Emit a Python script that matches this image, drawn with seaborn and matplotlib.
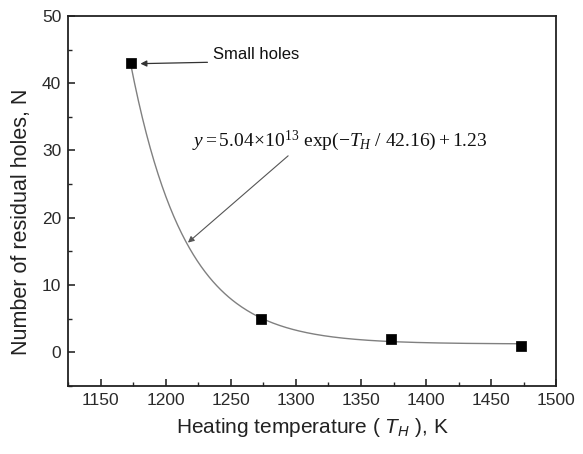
import numpy as np
import pandas as pd
import matplotlib
matplotlib.use("Agg")
import matplotlib.pyplot as plt
from matplotlib.ticker import MultipleLocator
import seaborn as sns

# Data
temperatures = [1173, 1273, 1373, 1473]
residual_holes = [43, 5, 2, 1]

# Fit parameters shown on the chart: y = A*exp(-T/tau) + y0
fit_A = 5.04e13
fit_tau = 42.16
fit_y0 = 1.23

x_ticks = [1150, 1200, 1250, 1300, 1350, 1400, 1450, 1500]
y_ticks = [0, 10, 20, 30, 40, 50]

sns.set_style("ticks")
plt.rcParams['font.family'] = ['Liberation Sans', 'DejaVu Sans']
plt.rcParams['mathtext.fontset'] = 'custom'
plt.rcParams['mathtext.rm'] = 'Liberation Serif'
plt.rcParams['mathtext.it'] = 'Liberation Serif:italic'
plt.rcParams['mathtext.sf'] = 'Liberation Sans:italic'

fig, ax = plt.subplots(figsize=(5.83, 4.54), dpi=100)
fig.subplots_adjust(left=0.117, right=0.954, top=0.965, bottom=0.15)

df = pd.DataFrame({"T": temperatures, "N": residual_holes})
t_fit = np.linspace(temperatures[0], temperatures[-1], 300)
fit_df = pd.DataFrame({"T": t_fit, "N": fit_A * np.exp(-t_fit / fit_tau) + fit_y0})

sns.lineplot(data=fit_df, x="T", y="N", ax=ax, color="#808080", linewidth=1.0)
sns.scatterplot(data=df, x="T", y="N", ax=ax, marker="s", color="black", s=42,
                edgecolor="black", zorder=5)

ax.set_xlim(1125, 1500)
ax.set_ylim(-5, 50)
ax.set_xticks(x_ticks)
ax.set_yticks(y_ticks)
ax.xaxis.set_minor_locator(MultipleLocator(25))
ax.yaxis.set_minor_locator(MultipleLocator(5))
ax.tick_params(which="major", direction="in", length=5, width=1.2, labelsize=12.5,
               colors="#2a2a2a", top=False, right=False, pad=5)
ax.tick_params(which="minor", direction="in", length=3, width=1.0, top=False, right=False)
for s in ax.spines.values():
    s.set_visible(True)
    s.set_linewidth(1.3)
    s.set_color("#222222")

ax.set_xlabel(r"Heating temperature ( $\mathsf{T_H}$ ), K", fontsize=15, color="#222222", labelpad=6)
ax.set_ylabel("Number of residual holes, N", fontsize=15.5, color="#222222")
ax.yaxis.set_label_coords(-0.075, 0.443)

# "Small holes" label and arrow
ax.text(1236, 44.2, "Small holes", fontsize=12, va="center", ha="left", color="#111111")
ax.annotate("", xy=(1180.5, 42.9), xytext=(1232, 43.1),
            arrowprops=dict(arrowstyle="-|>", color="#333333", lw=0.9,
                            mutation_scale=9, shrinkA=0, shrinkB=0))

# Fit equation and arrow
ax.text(1334, 31.4, r"$y = 5.04\!\times\!10^{13}\ \mathrm{exp}(-T_H\ /\ 42.16) + 1.23$",
        fontsize=14, va="center", ha="center", color="#111111")
ax.annotate("", xy=(1217, 16.3), xytext=(1294, 29.2),
            arrowprops=dict(arrowstyle="-|>", color="#555555", lw=0.8,
                            mutation_scale=9, shrinkA=0, shrinkB=0))

fig.savefig("out.png", dpi=100)
